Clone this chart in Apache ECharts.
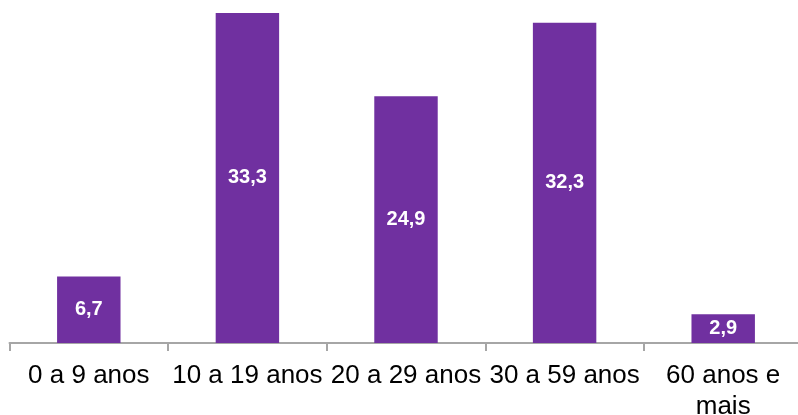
<!DOCTYPE html>
<html>
<head>
<meta charset="utf-8">
<script src="https://cdn.jsdelivr.net/npm/echarts@6/dist/echarts.min.js"></script>
<style>
  html, body { margin: 0; padding: 0; background: #fff; }
  #chart { width: 798px; height: 415px; }
</style>
</head>
<body>
<div id="chart"></div>
<script>
// dados
var categorias = ['0 a 9 anos', '10 a 19 anos', '20 a 29 anos', '30 a 59 anos', '60 anos e\nmais'];
var valores = [6.7, 33.3, 24.9, 32.3, 2.9];

(function () {
  var myChart = echarts.init(document.getElementById('chart'));
  var option = {
    animation: false,
    grid: {
      left: 9.5,
      top: 0,
      width: 793,
      height: 343,
      outerBoundsMode: 'none',
      containLabel: false
    },
    xAxis: {
      type: 'category',
      data: categorias,
      axisLine: { lineStyle: { color: '#A6A6A6', width: 2 } },
      axisTick: { show: true, length: 8, lineStyle: { color: '#A6A6A6', width: 2 } },
      axisLabel: {
        color: '#000',
        fontSize: 26,
        fontFamily: 'Liberation Sans, Arial, sans-serif',
        margin: 17,
        lineHeight: 31,
        interval: 0,
        hideOverlap: false
      }
    },
    yAxis: {
      type: 'value',
      min: 0,
      max: 34.6,
      show: false,
      splitLine: { show: false }
    },
    series: [{
      type: 'bar',
      data: valores,
      barWidth: '40%',
      itemStyle: { color: '#7030A0' },
      label: {
        show: true,
        position: 'inside',
        color: '#fff',
        fontWeight: 'bold',
        fontSize: 20,
        fontFamily: 'Liberation Sans, Arial, sans-serif',
        formatter: function (p) { return String(p.value).replace('.', ','); }
      }
    }]
  };
  myChart.setOption(option);
})();
</script>
</body>
</html>
